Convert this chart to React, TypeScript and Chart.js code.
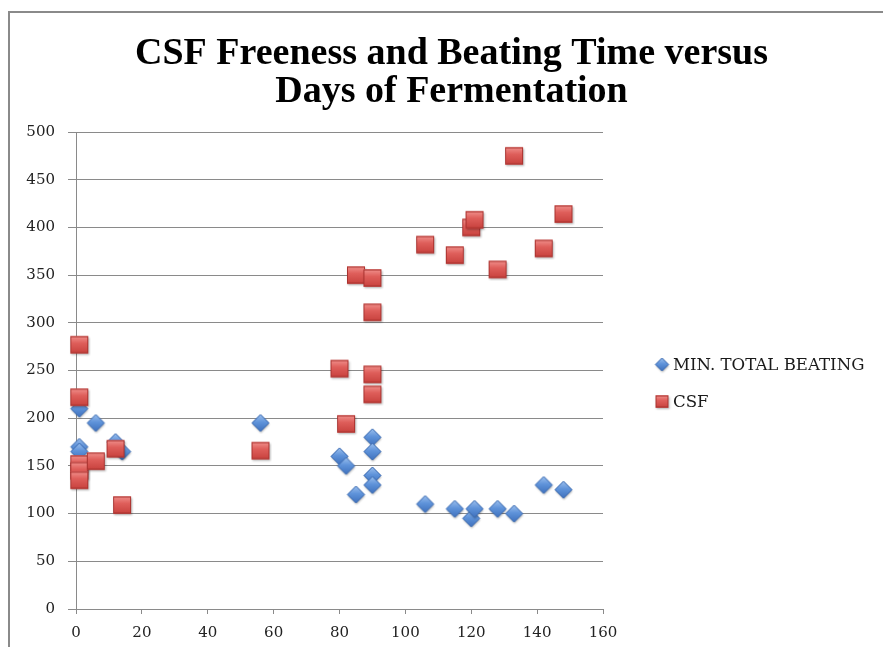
import React, { useEffect, useRef } from 'react';
import { Chart, registerables, layouts } from 'chart.js';

Chart.register(...registerables);

// ---- data ----
const titleLines = ['CSF Freeness and Beating Time versus', 'Days of Fermentation'];
const beatingLabel = 'MIN. TOTAL BEATING';
const csfLabel = 'CSF';

const beatingDays = [1, 1, 1, 6, 12, 14, 56, 80, 82, 85, 90, 90, 90, 90, 106, 115, 120, 121, 128, 133, 142, 148];
const beatingMinutes = [210, 170, 165, 195, 175, 165, 195, 160, 150, 120, 180, 165, 140, 130, 110, 105, 95, 105, 105, 100, 130, 125];

const csfDays = [1, 1, 1, 1, 1, 6, 12, 14, 56, 80, 82, 85, 90, 90, 90, 90, 106, 115, 120, 121, 128, 133, 142, 148];
const csfFreeness = [277, 222, 152, 145, 135, 155, 168, 109, 166, 252, 194, 350, 347, 311, 246, 225, 382, 371, 400, 408, 356, 475, 378, 414];

const xMin = 0;
const xMax = 160;
const xStep = 20;
const yMin = 0;
const yMax = 500;
const yStep = 50;

function makeDiamond(half: number): HTMLCanvasElement {
  const size = Math.ceil(half * 2 + 6);
  const c = document.createElement('canvas');
  c.width = size;
  c.height = size;
  const ctx = c.getContext('2d')!;
  const m = size / 2;
  const path = () => {
    ctx.beginPath();
    ctx.moveTo(m, m - half);
    ctx.lineTo(m + half, m);
    ctx.lineTo(m, m + half);
    ctx.lineTo(m - half, m);
    ctx.closePath();
  };
  ctx.save();
  ctx.shadowColor = 'rgba(0,0,0,0.3)';
  ctx.shadowBlur = 2;
  ctx.shadowOffsetX = 0.5;
  ctx.shadowOffsetY = 1.5;
  path();
  ctx.fillStyle = '#4a7cc4';
  ctx.fill();
  ctx.restore();
  const g = ctx.createLinearGradient(0, m - half, 0, m + half);
  g.addColorStop(0, '#9cc0ee');
  g.addColorStop(0.45, '#5f93da');
  g.addColorStop(1, '#3f71bd');
  path();
  ctx.fillStyle = g;
  ctx.fill();
  ctx.lineWidth = 1;
  ctx.strokeStyle = '#3b6ab0';
  ctx.stroke();
  return c;
}

function makeSquare(halfW: number, halfH: number): HTMLCanvasElement {
  const size = Math.ceil(Math.max(halfW, halfH) * 2 + 6);
  const c = document.createElement('canvas');
  c.width = size;
  c.height = size;
  const ctx = c.getContext('2d')!;
  const m = size / 2;
  ctx.save();
  ctx.shadowColor = 'rgba(0,0,0,0.3)';
  ctx.shadowBlur = 2;
  ctx.shadowOffsetX = 0.5;
  ctx.shadowOffsetY = 1.5;
  ctx.fillStyle = '#c9433f';
  ctx.fillRect(m - halfW, m - halfH, halfW * 2, halfH * 2);
  ctx.restore();
  const g = ctx.createLinearGradient(0, m - halfH, 0, m + halfH);
  g.addColorStop(0, '#f0908c');
  g.addColorStop(0.4, '#df5f5b');
  g.addColorStop(1, '#c8423e');
  ctx.fillStyle = g;
  ctx.fillRect(m - halfW, m - halfH, halfW * 2, halfH * 2);
  ctx.lineWidth = 1;
  ctx.strokeStyle = '#a9322f';
  ctx.strokeRect(m - halfW + 0.5, m - halfH + 0.5, halfW * 2 - 1, halfH * 2 - 1);
  return c;
}

const AXIS_GRAY = '#8a8a8a';
const TICK_FONT = { family: '"DejaVu Serif", serif', size: 15 };

export default function App() {
  const ref = useRef<HTMLCanvasElement | null>(null);

  useEffect(() => {
    if (!ref.current) return;

    const diamond = makeDiamond(8.5);
    const square = makeSquare(9, 8.5);
    const legendMarkers = [makeDiamond(6.5), makeSquare(6.5, 6)];

    const legendBox: any = {
      position: 'right',
      weight: 1000,
      fullSize: false,
      options: {},
      left: 0,
      top: 0,
      right: 0,
      bottom: 0,
      width: 0,
      height: 0,
      chart: null as any,
      isHorizontal() {
        return false;
      },
      update(_maxWidth: number, maxHeight: number) {
        this.width = 280;
        this.height = maxHeight;
      },
      draw() {
        const chart = this.chart;
        const ctx = chart.ctx;
        const ca = chart.chartArea;
        const cx = this.left + 59;
        const y0 = (ca.top + ca.bottom) / 2 - 6;
        ctx.save();
        chart.data.datasets.forEach((ds: any, i: number) => {
          const y = y0 + i * 37;
          const img = legendMarkers[i];
          ctx.drawImage(img, cx - img.width / 2, y - img.height / 2);
          ctx.font = '16.6px "DejaVu Serif", serif';
          ctx.fillStyle = '#1a1a1a';
          ctx.textBaseline = 'middle';
          ctx.textAlign = 'left';
          ctx.fillText(ds.label, cx + 11, y + 1);
        });
        ctx.restore();
      },
    };

    const sideLegend = {
      id: 'sideLegend',
      beforeInit(chart: any) {
        legendBox.chart = chart;
        layouts.addBox(chart, legendBox);
      },
    };

    const frame = {
      id: 'frame',
      beforeDraw(chart: any) {
        const ctx = chart.ctx;
        ctx.save();
        ctx.strokeStyle = '#8a8a8a';
        ctx.lineWidth = 2;
        ctx.beginPath();
        ctx.moveTo(9, chart.height);
        ctx.lineTo(9, 12);
        ctx.lineTo(chart.width, 12);
        ctx.stroke();
        ctx.restore();
      },
    };

    const chart = new Chart(ref.current, {
      type: 'scatter',
      data: {
        datasets: [
          {
            label: beatingLabel,
            data: beatingDays.map((d, i) => ({ x: d, y: beatingMinutes[i] })),
            pointStyle: diamond as any,
            pointRadius: 9,
            clip: false,
            order: 1,
          },
          {
            label: csfLabel,
            data: csfDays.map((d, i) => ({ x: d, y: csfFreeness[i] })),
            pointStyle: square as any,
            pointRadius: 9,
            clip: false,
            order: 0,
          },
        ],
      },
      options: {
        responsive: false,
        animation: false,
        events: [],
        layout: { padding: { left: 20, right: 0, top: 0, bottom: 0 } },
        plugins: {
          legend: { display: false },
          tooltip: { enabled: false },
          title: {
            display: true,
            text: titleLines,
            color: '#000',
            font: { family: '"Liberation Serif", serif', size: 38, weight: 'bold', lineHeight: 1.0 },
            padding: { top: 35.5, bottom: 20.5 },
          },
        },
        scales: {
          x: {
            type: 'linear',
            min: xMin,
            max: xMax,
            afterFit(scale: any) {
              scale.height = 38;
            },
            ticks: { stepSize: xStep, color: '#222', font: TICK_FONT, padding: 10, maxRotation: 0 },
            grid: { drawOnChartArea: false, drawTicks: true, tickLength: 5, color: AXIS_GRAY, lineWidth: 1 },
            border: { display: true, color: AXIS_GRAY, width: 1 },
          },
          y: {
            type: 'linear',
            min: yMin,
            max: yMax,
            afterFit(scale: any) {
              scale.width = 56;
            },
            ticks: { stepSize: yStep, color: '#222', font: TICK_FONT, padding: 13 },
            grid: { drawTicks: true, tickLength: 8, color: AXIS_GRAY, lineWidth: 1 },
            border: { display: true, color: AXIS_GRAY, width: 1 },
          },
        },
      },
      plugins: [sideLegend, frame],
    } as any);

    return () => chart.destroy();
  }, []);

  return (
    <div style={{ position: 'absolute', left: 0, top: 0, width: 883, height: 647 }}>
      <canvas ref={ref} width={883} height={647} style={{ display: 'block' }} />
    </div>
  );
}
